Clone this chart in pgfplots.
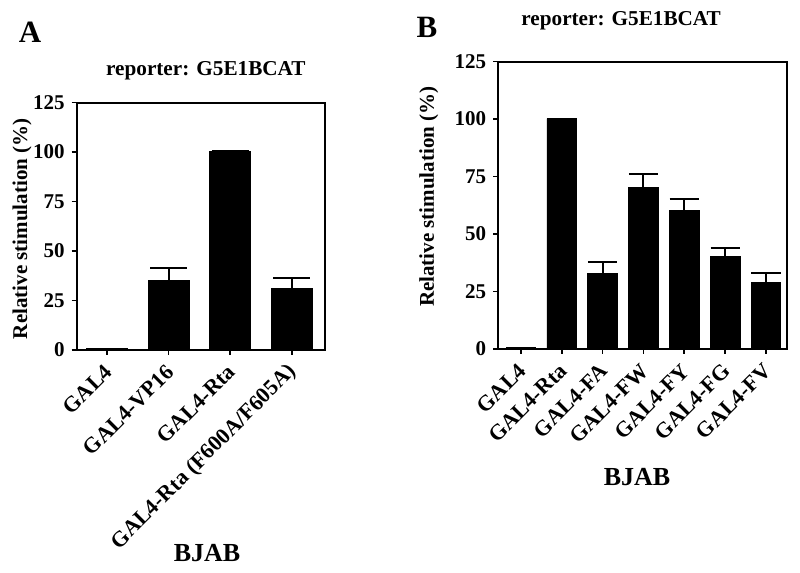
\documentclass[border=0pt]{standalone}
\usepackage{fontspec}
\setmainfont{Liberation Serif}
\usepackage{pgfplots}
\pgfplotsset{compat=1.18}
\begin{document}
\begin{tikzpicture}
\path[use as bounding box] (0,0) rectangle (400pt,286.5pt);
\pgfplotsset{
  myaxis/.style={
    scale only axis,
    anchor=south west,
    ymin=0, ymax=125,
    ytick={0,25,50,75,100,125},
    xtick=data,
    tick align=outside,
    xtick pos=left, ytick pos=left,
    major tick length=2.5pt,
    axis line style={line width=1pt},
    every tick/.style={line width=0.9pt,black},
    /pgf/number format/assume math mode=true,
    yticklabel style={font=\fontsize{10.5pt}{12pt}\selectfont\bfseries},
    xticklabel style={font=\fontsize{11pt}{12pt}\selectfont\bfseries, yshift=-6pt, xshift=1.5pt, rotate=45, anchor=east, inner sep=1pt},
    label style={font=\fontsize{10.5pt}{12pt}\selectfont\bfseries},
    title style={font=\fontsize{10.6pt}{12pt}\selectfont\bfseries, anchor=center, yshift=-7.5pt},
    xlabel style={font=\fontsize{13pt}{15pt}\selectfont\bfseries, anchor=center},
    ylabel style={anchor=center},
    ybar,
    ylabel={Relative stimulation (\%)},
    title={reporter: G5E1BCAT},
    xlabel={BJAB},
  },
  mybar/.style={fill=black, draw=black,
    error bars/.cd, y dir=plus, y explicit,
    error bar style={line width=1pt, black},
    error mark options={rotate=90, line width=1pt, mark size=#1}},
}
% Panel A
\begin{axis}[myaxis,
  at={(38.35pt,111.5pt)},
  width=124.2pt, height=123.7pt,
  xmin=-0.49, xmax=3.54,
  bar width=20.5pt,
  xticklabels={GAL4, GAL4-VP16, GAL4-Rta, GAL4-Rta (F600A/F605A)},
  title style={at={(axis description cs:0.52,1.14)}},
  ylabel style={at={(axis description cs:-0.22,0.49)}},
  xlabel style={at={(axis description cs:0.525,-0.82)}},
]
\addplot+[mybar=9.2pt] coordinates {
  (0,0.6) +- (0,0)
  (1,35) +- (0,6.3)
  (2,100.5) +- (0,0)
  (3,31.3) +- (0,5.1)
};
\end{axis}
% Panel B
\begin{axis}[myaxis,
  at={(249.15pt,112pt)},
  width=144.5pt, height=143.7pt,
  xmin=-0.55, xmax=6.52,
  bar width=14.75pt,
  xticklabels={GAL4, GAL4-Rta, GAL4-FA, GAL4-FW, GAL4-FY, GAL4-FG, GAL4-FV},
  title style={at={(axis description cs:0.425,1.152)}},
  ylabel style={at={(axis description cs:-0.24,0.53)}},
  xlabel style={at={(axis description cs:0.48,-0.446)}},
]
\addplot+[mybar=7.3pt] coordinates {
  (0,0.6) +- (0,0)
  (1,100.2) +- (0,0)
  (2,32.7) +- (0,5.3)
  (3,70.3) +- (0,5.7)
  (4,60.2) +- (0,5.0)
  (5,40.2) +- (0,3.7)
  (6,28.9) +- (0,4.1)
};
\end{axis}
\node[font=\fontsize{15.5pt}{18pt}\selectfont\bfseries] at (15pt,270.5pt) {A};
\node[font=\fontsize{15.5pt}{18pt}\selectfont\bfseries] at (213.5pt,273pt) {B};
\end{tikzpicture}
\end{document}
